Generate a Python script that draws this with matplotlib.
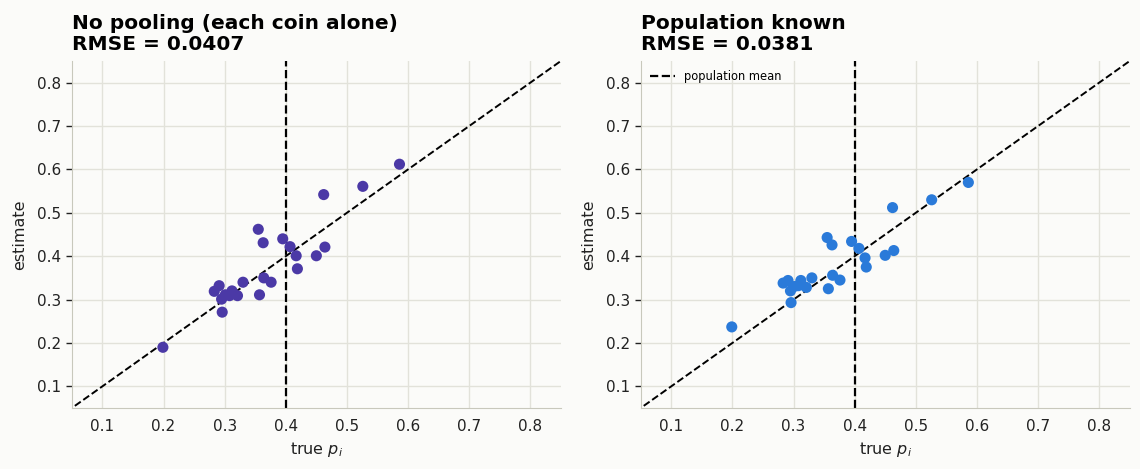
import numpy as np
import matplotlib.pyplot as plt

# values
true_p = [0.199, 0.283, 0.291, 0.295, 0.296, 0.301, 0.312, 0.321, 0.308, 0.330,
          0.357, 0.364, 0.376, 0.355, 0.363, 0.395, 0.407, 0.417, 0.419, 0.450,
          0.464, 0.462, 0.526, 0.586]
est_nopool = [0.190, 0.319, 0.332, 0.301, 0.271, 0.311, 0.320, 0.309, 0.309, 0.340,
              0.311, 0.350, 0.340, 0.462, 0.431, 0.440, 0.422, 0.401, 0.371, 0.401,
              0.421, 0.542, 0.561, 0.612]
est_known = [0.237, 0.338, 0.344, 0.320, 0.293, 0.330, 0.344, 0.328, 0.332, 0.350,
             0.325, 0.356, 0.345, 0.443, 0.426, 0.434, 0.418, 0.396, 0.375, 0.402,
             0.413, 0.512, 0.530, 0.570]
titles = ['No pooling (each coin alone)\nRMSE = 0.0407',
          'Population known\nRMSE = 0.0381']
colors = ['#4b39a6', '#2a7ad9']
pop_mean = 0.4
ticks = [0.1, 0.2, 0.3, 0.4, 0.5, 0.6, 0.7, 0.8]

bg = '#fbfbf9'
fig = plt.figure(figsize=(11.4, 4.69), dpi=100, facecolor=bg)
ax1 = fig.add_axes([0.063, 0.130, 0.429, 0.740])
ax2 = fig.add_axes([0.562, 0.130, 0.429, 0.740])

for i, (ax, est) in enumerate(zip([ax1, ax2], [est_nopool, est_known])):
    ax.set_facecolor(bg)
    ax.grid(True, color='#e2e2da', linewidth=1.0, zorder=0)
    ax.set_axisbelow(True)
    ax.plot([0, 1], [0, 1], ls='--', color='black', lw=1.4, zorder=2)
    ax.axvline(pop_mean, ls='--', color='black', lw=1.6, zorder=2,
               label='population mean')
    ax.scatter(true_p, est, s=64, color=colors[i], edgecolors='none', zorder=3)
    ax.set_xlim(0.05, 0.85)
    ax.set_ylim(0.05, 0.85)
    ax.set_xticks(ticks)
    ax.set_yticks(ticks)
    ax.tick_params(axis='both', labelsize=11, colors='#222222')
    ax.tick_params(axis='x', length=0, pad=8)
    ax.tick_params(axis='y', length=4, width=1)
    for side in ['top', 'right']:
        ax.spines[side].set_visible(False)
    for side in ['left', 'bottom']:
        ax.spines[side].set_color('#c8c8bc')
    ax.set_xlabel('true $p_i$', fontsize=11.5, color='#222222')
    ax.set_ylabel('estimate', fontsize=11.5, color='#222222', labelpad=7)
    ax.set_title(titles[i], loc='left', fontsize=14.5, fontweight='bold',
                 pad=8, linespacing=1.15)

ax2.legend(loc='upper left', frameon=False, fontsize=8.3, handlelength=2.2,
           borderaxespad=0.4)

fig.savefig('out.png', dpi=100, facecolor=bg)
